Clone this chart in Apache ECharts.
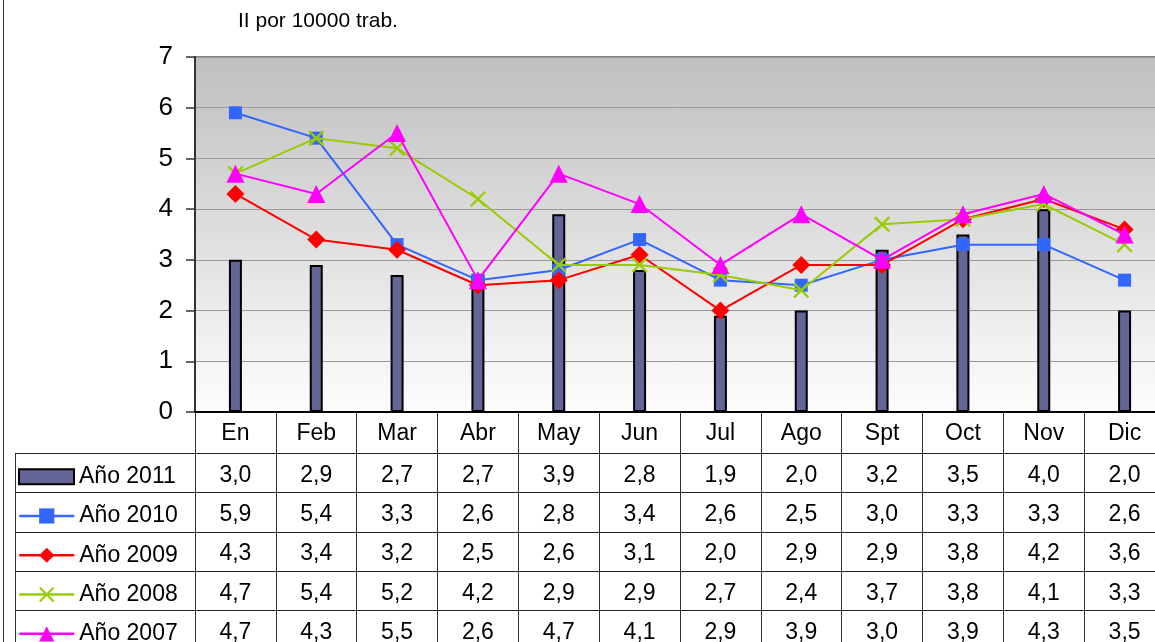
<!DOCTYPE html>
<html><head><meta charset="utf-8">
<script src="https://cdn.jsdelivr.net/npm/echarts@6/dist/echarts.min.js"></script>
<style>html,body{margin:0;padding:0;background:#fff;}#c{width:1155px;height:642px;}</style>
</head><body><div id="c"></div>
<script>
const categories = ['En','Feb','Mar','Abr','May','Jun','Jul','Ago','Spt','Oct','Nov','Dic'];
const seriesNames = ['Año 2011','Año 2010','Año 2009','Año 2008','Año 2007'];
const y2011 = [3.0,2.9,2.7,2.7,3.9,2.8,1.9,2.0,3.2,3.5,4.0,2.0];
const y2010 = [5.9,5.4,3.3,2.6,2.8,3.4,2.6,2.5,3.0,3.3,3.3,2.6];
const y2009 = [4.3,3.4,3.2,2.5,2.6,3.1,2.0,2.9,2.9,3.8,4.2,3.6];
const y2008 = [4.7,5.4,5.2,4.2,2.9,2.9,2.7,2.4,3.7,3.8,4.1,3.3];
const y2007 = [4.7,4.3,5.5,2.6,4.7,4.1,2.9,3.9,3.0,3.9,4.3,3.5];
const yTicks = [0,1,2,3,4,5,6,7];
const title = 'II por 10000 trab.';

const rows = [y2011,y2010,y2009,y2008,y2007];
const FONT = '"Liberation Sans", Arial, sans-serif';
const G = {left:195, top:57, width:970, height:355};
const ROW0 = 41, ROWH = 39.3;
const xSym = 'path://M0,1 L1,0 L5,4 L9,0 L10,1 L6,5 L10,9 L9,10 L5,6 L1,10 L0,9 L4,5 Z';

const chart = echarts.init(document.getElementById('c'), null, {renderer:'canvas'});

const xAxes = [{
  type:'category', data:categories, gridIndex:0, position:'bottom', boundaryGap:true,
  axisLine:{show:true, lineStyle:{color:'#000', width:2}},
  axisTick:{show:true, length:230, alignWithLabel:false, lineStyle:{color:'#333', width:1}},
  axisLabel:{fontSize:23, color:'#000', fontFamily:FONT, margin:10}
}];
rows.forEach((r,i)=>{
  xAxes.push({
    type:'category', data:categories, gridIndex:0, position:'bottom', offset: ROW0 + ROWH*i,
    axisLine:{show:false}, axisTick:{show:false},
    axisLabel:{fontSize:23, color:'#000', fontFamily:FONT, margin:11,
      formatter:(v,idx)=> r[idx].toFixed(1).replace('.',',')}
  });
});

const styles = [
  {color:'#3366FF', symbol:'rect', size:13},
  {color:'#FF0000', symbol:'diamond', size:18},
  {color:'#99CC00', symbol:xSym, size:16},
  {color:'#FF00FF', symbol:'triangle', size:18}
];

const series = [{
  name:seriesNames[0], type:'bar', data:y2011, barWidth:13, xAxisIndex:0,
  itemStyle:{color:'#646496', borderColor:'#000', borderWidth:2}
}];
[y2010,y2009,y2008,y2007].forEach((d,i)=>{
  const s = styles[i];
  series.push({
    name:seriesNames[i+1], type:'line', data:d, xAxisIndex:0,
    symbol:s.symbol, symbolSize:s.size, showAllSymbol:true,
    lineStyle:{color:s.color, width:2}, itemStyle:{color:s.color},
    emphasis:{disabled:true}, z:3+i
  });
});

const legends = seriesNames.map((n,i)=>({
  data:[n], orient:'horizontal', left:18, top: G.top+G.height+ROW0 + ROWH*i + ROWH/2 - 8,
  padding:0, itemWidth:55, itemHeight: i===0 ? 15 : 19, itemGap:6, selectedMode:false,
  icon: i===0 ? 'rect' : undefined,
  lineStyle:{width:2.5},
  textStyle:{fontSize:23, color:'#000', fontFamily:FONT, lineHeight:24}
}));

chart.setOption({
  animation:false,
  backgroundColor:'#fff',
  title:{text:title, left:238, top:11, padding:0, textStyle:{fontSize:21, fontWeight:'normal', color:'#000', fontFamily:FONT}},
  grid:{left:G.left, top:G.top, width:G.width, height:G.height, outerBoundsMode:'none', containLabel:false,
    show:true, borderColor:'#808080', borderWidth:2,
    backgroundColor:new echarts.graphic.LinearGradient(0,0,0,1,[{offset:0,color:'#bfbfbf'},{offset:1,color:'#fdfdfd'}])},
  legend:legends,
  xAxis:xAxes,
  yAxis:{type:'value', min:yTicks[0], max:yTicks[yTicks.length-1], interval:1,
    axisLine:{show:true, lineStyle:{color:'#333', width:2}},
    axisTick:{show:true, length:9, lineStyle:{color:'#333', width:1.5}},
    splitLine:{show:true, lineStyle:{color:'#999', width:1}},
    axisLabel:{fontSize:26, color:'#000', fontFamily:FONT, margin:22}},
  series:series
});

const yBase = chart.convertToPixel({yAxisIndex:0}, 0);
const gfx = [{type:'line', shape:{x1:3.5,y1:0,x2:3.5,y2:642}, style:{stroke:'#333', lineWidth:1}},
             {type:'line', shape:{x1:15.5,y1:yBase+ROW0,x2:15.5,y2:642}, style:{stroke:'#333', lineWidth:1}}];
rows.forEach((r,i)=>{
  const y = Math.round(yBase + ROW0 + ROWH*i) + 0.5;
  gfx.push({type:'line', shape:{x1:15,y1:y,x2:1155,y2:y}, style:{stroke:'#222', lineWidth:1}});
});
chart.setOption({graphic:gfx});
</script></body></html>
